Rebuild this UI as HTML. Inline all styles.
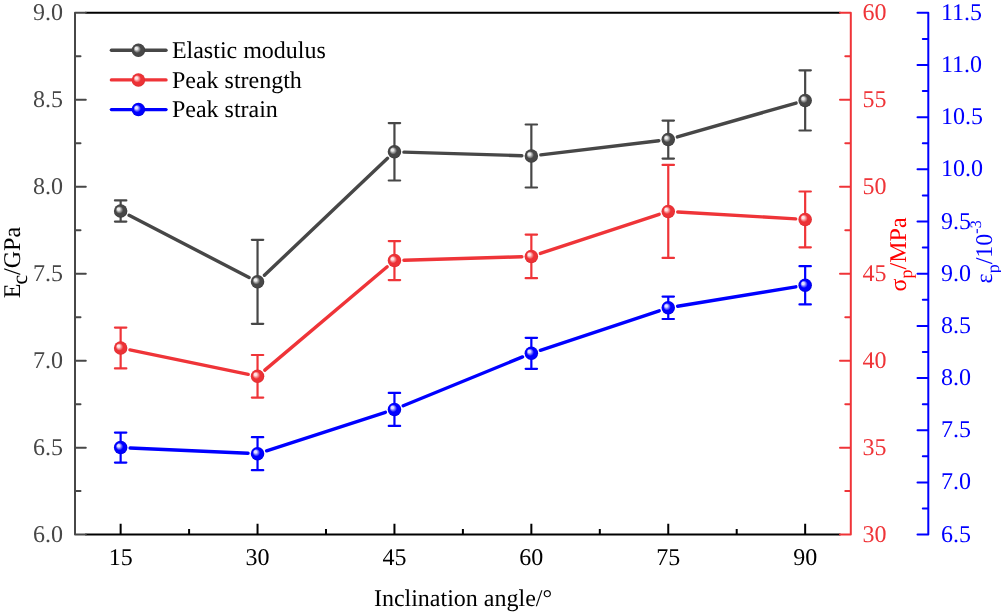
<!DOCTYPE html>
<html><head><meta charset="utf-8"><style>
html,body{margin:0;padding:0;background:#fff;}
body{width:1001px;height:614px;position:relative;overflow:hidden;font-family:"Liberation Serif", serif;}
text{text-rendering:geometricPrecision;}
</style></head><body>
<svg width="1001" height="614" viewBox="0 0 1001 614" style="position:absolute;left:0;top:0;filter:blur(0.45px)">
<defs>
<radialGradient id="gG" cx="0.5" cy="0.5" r="0.5" fx="0.31" fy="0.33" gradientUnits="objectBoundingBox"><stop offset="0" stop-color="#ececec"/><stop offset="0.18" stop-color="#ececec"/><stop offset="0.55" stop-color="#474747"/><stop offset="0.85" stop-color="#474747"/><stop offset="1" stop-color="#383838"/></radialGradient>
<radialGradient id="gR" cx="0.5" cy="0.5" r="0.5" fx="0.31" fy="0.33" gradientUnits="objectBoundingBox"><stop offset="0" stop-color="#ffe4e4"/><stop offset="0.18" stop-color="#ffe4e4"/><stop offset="0.55" stop-color="#ec3236"/><stop offset="0.85" stop-color="#ec3236"/><stop offset="1" stop-color="#dc2a2e"/></radialGradient>
<radialGradient id="gB" cx="0.5" cy="0.5" r="0.5" fx="0.31" fy="0.33" gradientUnits="objectBoundingBox"><stop offset="0" stop-color="#e0e0ff"/><stop offset="0.18" stop-color="#e0e0ff"/><stop offset="0.55" stop-color="#0000ff"/><stop offset="0.85" stop-color="#0000ff"/><stop offset="1" stop-color="#0000d8"/></radialGradient>
</defs>
<rect width="1001" height="614" fill="#fff"/>
<path d="M85.3 12.8H840.5M85.3 534.6H840.5" stroke="#000" stroke-width="2.0" fill="none"/>
<path d="M120.64 534.6V523.80M257.54 534.6V523.80M394.45 534.6V523.80M531.35 534.6V523.80M668.26 534.6V523.80M805.16 534.6V523.80M189.09 534.6V529.10M325.99 534.6V529.10M462.90 534.6V529.10M599.81 534.6V529.10M736.71 534.6V529.10" stroke="#000" stroke-width="2.0" fill="none"/>
<path d="M75.0 12.8V534.6M75.0 534.60H85.80M75.0 447.63H85.80M75.0 360.67H85.80M75.0 273.70H85.80M75.0 186.73H85.80M75.0 99.77H85.80M75.0 12.80H85.80M75.0 491.12H80.50M75.0 404.15H80.50M75.0 317.18H80.50M75.0 230.22H80.50M75.0 143.25H80.50M75.0 56.28H80.50" stroke="#474747" stroke-width="2.0" fill="none" stroke-linecap="round" stroke-linejoin="round"/>
<path d="M850.8 12.8V534.6M850.8 534.60H840.00M850.8 447.63H840.00M850.8 360.67H840.00M850.8 273.70H840.00M850.8 186.73H840.00M850.8 99.77H840.00M850.8 12.80H840.00M850.8 491.12H845.30M850.8 404.15H845.30M850.8 317.18H845.30M850.8 230.22H845.30M850.8 143.25H845.30M850.8 56.28H845.30" stroke="#ef3438" stroke-width="2.0" fill="none" stroke-linecap="round" stroke-linejoin="round"/>
<path d="M928.3 12.8V534.6M928.3 534.60H917.50M928.3 482.42H917.50M928.3 430.24H917.50M928.3 378.06H917.50M928.3 325.88H917.50M928.3 273.70H917.50M928.3 221.52H917.50M928.3 169.34H917.50M928.3 117.16H917.50M928.3 64.98H917.50M928.3 12.80H917.50M928.3 508.51H922.80M928.3 456.33H922.80M928.3 404.15H922.80M928.3 351.97H922.80M928.3 299.79H922.80M928.3 247.61H922.80M928.3 195.43H922.80M928.3 143.25H922.80M928.3 91.07H922.80M928.3 38.89H922.80" stroke="#0000ff" stroke-width="2.0" fill="none" stroke-linecap="round" stroke-linejoin="round"/>
<g font-family='"Liberation Serif", serif'>
<text x="63" y="541.60" font-size="24" fill="#474747" text-anchor="end">6.0</text>
<text x="63" y="454.63" font-size="24" fill="#474747" text-anchor="end">6.5</text>
<text x="63" y="367.67" font-size="24" fill="#474747" text-anchor="end">7.0</text>
<text x="63" y="280.70" font-size="24" fill="#474747" text-anchor="end">7.5</text>
<text x="63" y="193.73" font-size="24" fill="#474747" text-anchor="end">8.0</text>
<text x="63" y="106.77" font-size="24" fill="#474747" text-anchor="end">8.5</text>
<text x="63" y="19.80" font-size="24" fill="#474747" text-anchor="end">9.0</text>
<text x="862.5" y="541.60" font-size="24" fill="#ef3438">30</text>
<text x="862.5" y="454.63" font-size="24" fill="#ef3438">35</text>
<text x="862.5" y="367.67" font-size="24" fill="#ef3438">40</text>
<text x="862.5" y="280.70" font-size="24" fill="#ef3438">45</text>
<text x="862.5" y="193.73" font-size="24" fill="#ef3438">50</text>
<text x="862.5" y="106.77" font-size="24" fill="#ef3438">55</text>
<text x="862.5" y="19.80" font-size="24" fill="#ef3438">60</text>
<text x="941" y="541.60" font-size="24" fill="#0000ff">6.5</text>
<text x="941" y="489.42" font-size="24" fill="#0000ff">7.0</text>
<text x="941" y="437.24" font-size="24" fill="#0000ff">7.5</text>
<text x="941" y="385.06" font-size="24" fill="#0000ff">8.0</text>
<text x="941" y="332.88" font-size="24" fill="#0000ff">8.5</text>
<text x="941" y="280.70" font-size="24" fill="#0000ff">9.0</text>
<text x="941" y="228.52" font-size="24" fill="#0000ff">9.5</text>
<text x="941" y="176.34" font-size="24" fill="#0000ff">10.0</text>
<text x="941" y="124.16" font-size="24" fill="#0000ff">10.5</text>
<text x="941" y="71.98" font-size="24" fill="#0000ff">11.0</text>
<text x="941" y="19.80" font-size="24" fill="#0000ff">11.5</text>
<text x="120.64" y="565.2" font-size="24" fill="#000" text-anchor="middle">15</text>
<text x="257.54" y="565.2" font-size="24" fill="#000" text-anchor="middle">30</text>
<text x="394.45" y="565.2" font-size="24" fill="#000" text-anchor="middle">45</text>
<text x="531.35" y="565.2" font-size="24" fill="#000" text-anchor="middle">60</text>
<text x="668.26" y="565.2" font-size="24" fill="#000" text-anchor="middle">75</text>
<text x="805.16" y="565.2" font-size="24" fill="#000" text-anchor="middle">90</text>
<text x="463" y="606.2" font-size="24" fill="#000" text-anchor="middle">Inclination angle/°</text>
<text transform="translate(20.0,298.2) rotate(-90)" font-size="24" fill="#000">E<tspan font-size="22" dy="7" dx="-1">c</tspan><tspan dy="-7" dx="-0.2">/GPa</tspan></text>
<text transform="translate(905.8,291.4) rotate(-90)" font-size="24" fill="#ff0000">σ<tspan font-size="18" dy="6.6">p</tspan><tspan dy="-6.6">/MPa</tspan></text>
<text transform="translate(992.0,283.4) rotate(-90)" font-size="24" fill="#0000ff">ε<tspan font-size="18" dy="7.2">p</tspan><tspan dy="-7.2">/10</tspan><tspan font-size="16" dy="-11">-3</tspan></text>
</g>
<line x1="129.07" y1="215.36" x2="249.10" y2="277.44" stroke="#474747" stroke-width="3.4" stroke-linecap="round"/>
<line x1="264.43" y1="275.26" x2="387.56" y2="158.34" stroke="#474747" stroke-width="3.4" stroke-linecap="round"/>
<line x1="403.94" y1="152.09" x2="521.86" y2="155.71" stroke="#474747" stroke-width="3.4" stroke-linecap="round"/>
<line x1="540.79" y1="154.87" x2="658.83" y2="140.73" stroke="#474747" stroke-width="3.4" stroke-linecap="round"/>
<line x1="677.39" y1="136.98" x2="796.03" y2="103.02" stroke="#474747" stroke-width="3.4" stroke-linecap="round"/>
<path d="M120.64 200.40V221.60M114.94 200.40H126.34M114.94 221.60H126.34" stroke="#474747" stroke-width="2.2" fill="none" stroke-linecap="round"/>
<path d="M257.54 239.80V323.80M251.84 239.80H263.24M251.84 323.80H263.24" stroke="#474747" stroke-width="2.2" fill="none" stroke-linecap="round"/>
<path d="M394.45 123.10V180.50M388.75 123.10H400.15M388.75 180.50H400.15" stroke="#474747" stroke-width="2.2" fill="none" stroke-linecap="round"/>
<path d="M531.35 124.50V187.50M525.65 124.50H537.05M525.65 187.50H537.05" stroke="#474747" stroke-width="2.2" fill="none" stroke-linecap="round"/>
<path d="M668.26 120.60V158.60M662.56 120.60H673.96M662.56 158.60H673.96" stroke="#474747" stroke-width="2.2" fill="none" stroke-linecap="round"/>
<path d="M805.16 70.30V130.50M799.46 70.30H810.86M799.46 130.50H810.86" stroke="#474747" stroke-width="2.2" fill="none" stroke-linecap="round"/>
<circle cx="120.64" cy="211.00" r="6.75" fill="url(#gG)"/>
<circle cx="257.54" cy="281.80" r="6.75" fill="url(#gG)"/>
<circle cx="394.45" cy="151.80" r="6.75" fill="url(#gG)"/>
<circle cx="531.35" cy="156.00" r="6.75" fill="url(#gG)"/>
<circle cx="668.26" cy="139.60" r="6.75" fill="url(#gG)"/>
<circle cx="805.16" cy="100.40" r="6.75" fill="url(#gG)"/>
<line x1="129.94" y1="349.92" x2="248.24" y2="374.38" stroke="#ef3438" stroke-width="3.4" stroke-linecap="round"/>
<line x1="264.80" y1="370.17" x2="387.19" y2="266.73" stroke="#ef3438" stroke-width="3.4" stroke-linecap="round"/>
<line x1="403.94" y1="260.31" x2="521.86" y2="256.69" stroke="#ef3438" stroke-width="3.4" stroke-linecap="round"/>
<line x1="540.38" y1="253.43" x2="659.23" y2="214.37" stroke="#ef3438" stroke-width="3.4" stroke-linecap="round"/>
<line x1="677.74" y1="211.95" x2="795.68" y2="218.85" stroke="#ef3438" stroke-width="3.4" stroke-linecap="round"/>
<path d="M120.64 327.60V368.40M114.94 327.60H126.34M114.94 368.40H126.34" stroke="#ef3438" stroke-width="2.2" fill="none" stroke-linecap="round"/>
<path d="M257.54 355.00V397.60M251.84 355.00H263.24M251.84 397.60H263.24" stroke="#ef3438" stroke-width="2.2" fill="none" stroke-linecap="round"/>
<path d="M394.45 241.10V280.10M388.75 241.10H400.15M388.75 280.10H400.15" stroke="#ef3438" stroke-width="2.2" fill="none" stroke-linecap="round"/>
<path d="M531.35 234.60V278.20M525.65 234.60H537.05M525.65 278.20H537.05" stroke="#ef3438" stroke-width="2.2" fill="none" stroke-linecap="round"/>
<path d="M668.26 164.90V257.90M662.56 164.90H673.96M662.56 257.90H673.96" stroke="#ef3438" stroke-width="2.2" fill="none" stroke-linecap="round"/>
<path d="M805.16 191.50V247.30M799.46 191.50H810.86M799.46 247.30H810.86" stroke="#ef3438" stroke-width="2.2" fill="none" stroke-linecap="round"/>
<circle cx="120.64" cy="348.00" r="6.75" fill="url(#gR)"/>
<circle cx="257.54" cy="376.30" r="6.75" fill="url(#gR)"/>
<circle cx="394.45" cy="260.60" r="6.75" fill="url(#gR)"/>
<circle cx="531.35" cy="256.40" r="6.75" fill="url(#gR)"/>
<circle cx="668.26" cy="211.40" r="6.75" fill="url(#gR)"/>
<circle cx="805.16" cy="219.40" r="6.75" fill="url(#gR)"/>
<line x1="130.13" y1="448.02" x2="248.05" y2="453.28" stroke="#0000ff" stroke-width="3.4" stroke-linecap="round"/>
<line x1="266.58" y1="450.78" x2="385.41" y2="412.32" stroke="#0000ff" stroke-width="3.4" stroke-linecap="round"/>
<line x1="403.24" y1="405.80" x2="522.56" y2="356.90" stroke="#0000ff" stroke-width="3.4" stroke-linecap="round"/>
<line x1="540.37" y1="350.30" x2="659.24" y2="310.80" stroke="#0000ff" stroke-width="3.4" stroke-linecap="round"/>
<line x1="677.63" y1="306.26" x2="795.79" y2="286.84" stroke="#0000ff" stroke-width="3.4" stroke-linecap="round"/>
<path d="M120.64 432.60V462.60M114.94 432.60H126.34M114.94 462.60H126.34" stroke="#0000ff" stroke-width="2.2" fill="none" stroke-linecap="round"/>
<path d="M257.54 437.20V470.20M251.84 437.20H263.24M251.84 470.20H263.24" stroke="#0000ff" stroke-width="2.2" fill="none" stroke-linecap="round"/>
<path d="M394.45 392.90V425.90M388.75 392.90H400.15M388.75 425.90H400.15" stroke="#0000ff" stroke-width="2.2" fill="none" stroke-linecap="round"/>
<path d="M531.35 337.80V368.80M525.65 337.80H537.05M525.65 368.80H537.05" stroke="#0000ff" stroke-width="2.2" fill="none" stroke-linecap="round"/>
<path d="M668.26 296.60V319.00M662.56 296.60H673.96M662.56 319.00H673.96" stroke="#0000ff" stroke-width="2.2" fill="none" stroke-linecap="round"/>
<path d="M805.16 266.20V304.40M799.46 266.20H810.86M799.46 304.40H810.86" stroke="#0000ff" stroke-width="2.2" fill="none" stroke-linecap="round"/>
<circle cx="120.64" cy="447.60" r="6.75" fill="url(#gB)"/>
<circle cx="257.54" cy="453.70" r="6.75" fill="url(#gB)"/>
<circle cx="394.45" cy="409.40" r="6.75" fill="url(#gB)"/>
<circle cx="531.35" cy="353.30" r="6.75" fill="url(#gB)"/>
<circle cx="668.26" cy="307.80" r="6.75" fill="url(#gB)"/>
<circle cx="805.16" cy="285.30" r="6.75" fill="url(#gB)"/>
<g font-family='"Liberation Serif", serif'>
<line x1="111.4" y1="50.3" x2="166.0" y2="50.3" stroke="#474747" stroke-width="3.4" stroke-linecap="round"/>
<circle cx="138.4" cy="50.3" r="6.75" fill="url(#gG)"/>
<text x="171.9" y="57.90" font-size="24" fill="#000">Elastic modulus</text>
<line x1="111.4" y1="79.9" x2="166.0" y2="79.9" stroke="#ef3438" stroke-width="3.4" stroke-linecap="round"/>
<circle cx="138.4" cy="79.9" r="6.75" fill="url(#gR)"/>
<text x="171.9" y="87.50" font-size="24" fill="#000">Peak strength</text>
<line x1="111.4" y1="109.6" x2="166.0" y2="109.6" stroke="#0000ff" stroke-width="3.4" stroke-linecap="round"/>
<circle cx="138.4" cy="109.6" r="6.75" fill="url(#gB)"/>
<text x="171.9" y="117.20" font-size="24" fill="#000">Peak strain</text>
</g>
</svg>
</body></html>
